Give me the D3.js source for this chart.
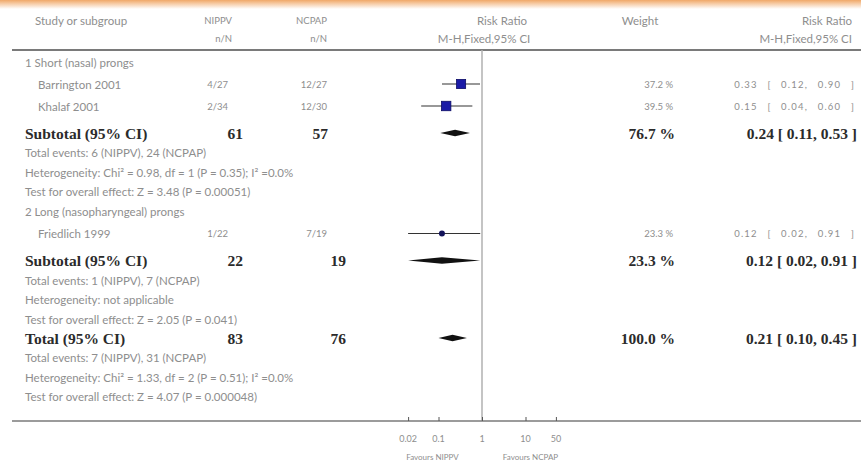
<!DOCTYPE html>
<html>
<head>
<meta charset="utf-8">
<title>Forest plot: NIPPV vs NCPAP</title>
<script src="https://cdn.jsdelivr.net/npm/d3@7"></script>
<style>
  body { margin: 0; background: #fff; }
  svg { display: block; }
  .lite { font-family: Lato, "Open Sans", sans-serif; font-size: 11.5px; fill: #8e8e8e; }
  .num { font-family: Lato, "Open Sans", sans-serif; font-size: 9.5px; fill: #8e8e8e; }
  .bold { font-family: "Liberation Serif", "DejaVu Serif", serif; font-weight: bold; font-size: 15.5px; fill: #2b2b2b; }
</style>
</head>
<body>
<svg id="chart" width="861" height="461"></svg>
<script>
// ---- data ----
var groupNames = ["1 Short (nasal) prongs", "2 Long (nasopharyngeal) prongs"];
var studyNames = ["Barrington 2001", "Khalaf 2001", "Friedlich 1999"];
var studyGroup = [0, 0, 1];
var nippvEvents = ["4/27", "2/34", "1/22"];
var ncpapEvents = ["12/27", "12/30", "7/19"];
var studyRR = [0.33, 0.15, 0.12];
var studyLo = [0.12, 0.04, 0.02];
var studyHi = [0.90, 0.60, 0.91];
var studyWeight = [37.2, 39.5, 23.3];

var poolLabels = ["Subtotal (95% CI)", "Subtotal (95% CI)", "Total (95% CI)"];
var poolNippv = [61, 22, 83];
var poolNcpap = [57, 19, 76];
var poolRR = [0.24, 0.12, 0.21];
var poolLo = [0.11, 0.02, 0.10];
var poolHi = [0.53, 0.91, 0.45];
var poolWeight = [76.7, 23.3, 100.0];
var poolInfo = [
  ["Total events: 6 (NIPPV), 24 (NCPAP)",
   "Heterogeneity: Chi\u00b2 = 0.98, df = 1 (P = 0.35); I\u00b2 =0.0%",
   "Test for overall effect: Z = 3.48 (P = 0.00051)"],
  ["Total events: 1 (NIPPV), 7 (NCPAP)",
   "Heterogeneity: not applicable",
   "Test for overall effect: Z = 2.05 (P = 0.041)"],
  ["Total events: 7 (NIPPV), 31 (NCPAP)",
   "Heterogeneity: Chi\u00b2 = 1.33, df = 2 (P = 0.51); I\u00b2 =0.0%",
   "Test for overall effect: Z = 4.07 (P = 0.000048)"]
];

var axisTicks = [0.02, 0.1, 1, 10, 50];
var axisTickLabels = ["0.02", "0.1", "1", "10", "50"];
var favourLabels = ["Favours NIPPV", "Favours NCPAP"];

// ---- build the row list ----
var rows = [];
[0, 1].forEach(function (g) {
  rows.push({ kind: "group", text: groupNames[g] });
  studyNames.forEach(function (s, i) {
    if (studyGroup[i] === g) rows.push({ kind: "study", i: i });
  });
  rows.push({ kind: "pool", i: g });
  poolInfo[g].forEach(function (t) { rows.push({ kind: "info", text: t }); });
});
rows.push({ kind: "total", i: 2 });
poolInfo[2].forEach(function (t) { rows.push({ kind: "info", text: t }); });

var gapBefore = { group: 20, study: 22, pool: 27, total: 19, info: 19.5 };
var y = 62 - gapBefore.group;
rows.forEach(function (r) { y += gapBefore[r.kind]; r.y = y; });

// ---- layout ----
var svg = d3.select("#chart");
var W = 861, H = 461;
var colNippv = 232, colNippvBold = 243, colNcpap = 327, colNcpapBold = 346;
var colWeight = 673, colCI = 855;
var axisY = 421, headRuleY = 50;

var x = d3.scaleLog().domain([0.01, 100]).range([395, 569]);
var size = d3.scaleSqrt().domain([0, 40]).range([0, 9.5]);

// orange band on top
var grad = svg.append("defs").append("linearGradient")
  .attr("id", "band").attr("x1", 0).attr("y1", 0).attr("x2", 0).attr("y2", 1);
grad.append("stop").attr("offset", "0%").attr("stop-color", "#f0a868");
grad.append("stop").attr("offset", "100%").attr("stop-color", "#fff");
svg.append("rect").attr("x", 0).attr("y", 0).attr("width", W).attr("height", 9)
  .attr("fill", "url(#band)");

// header
var head = svg.append("g").attr("dominant-baseline", "central");
function headText(cls, xx, yy, anchor, t) {
  head.append("text").attr("class", cls).attr("x", xx).attr("y", yy)
    .attr("text-anchor", anchor).text(t);
}
headText("lite", 35, 20, "start", "Study or subgroup");
headText("num", colNippv, 20, "end", "NIPPV");
headText("num", colNippv, 38, "end", "n/N");
headText("num", colNcpap, 20, "end", "NCPAP");
headText("num", colNcpap, 38, "end", "n/N");
headText("lite", 502, 20, "middle", "Risk Ratio");
headText("lite", 484, 38, "middle", "M-H,Fixed,95% CI");
headText("lite", 640, 20, "middle", "Weight");
headText("lite", 852, 20, "end", "Risk Ratio");
headText("lite", 852, 38, "end", "M-H,Fixed,95% CI");

svg.append("line").attr("x1", 12).attr("x2", W).attr("y1", headRuleY).attr("y2", headRuleY)
  .attr("stroke", "#7a7a7a").attr("stroke-width", 2);

// line of no effect
svg.append("line").attr("x1", x(1)).attr("x2", x(1)).attr("y1", headRuleY).attr("y2", axisY)
  .attr("stroke", "#b0b0b0").attr("stroke-width", 1.5);

function fmt2(v) { return d3.format(".2f")(v); }

// rows
var body = svg.append("g").attr("dominant-baseline", "central");
rows.forEach(function (r) {
  if (r.kind === "group" || r.kind === "info") {
    body.append("text").attr("class", "lite").attr("x", 25).attr("y", r.y).text(r.text);
  } else if (r.kind === "study") {
    var i = r.i;
    body.append("text").attr("class", "lite").attr("x", 38).attr("y", r.y).text(studyNames[i]);
    body.append("text").attr("class", "num").attr("x", colNippv - 4).attr("y", r.y)
      .attr("text-anchor", "end").text(nippvEvents[i]);
    body.append("text").attr("class", "num").attr("x", colNcpap).attr("y", r.y)
      .attr("text-anchor", "end").text(ncpapEvents[i]);
    body.append("text").attr("class", "num").attr("x", colWeight).attr("y", r.y)
      .attr("text-anchor", "end").text(studyWeight[i].toFixed(1) + " %");
    body.append("text").attr("class", "num").attr("x", colCI).attr("y", r.y)
      .attr("text-anchor", "end").style("letter-spacing", "1.2px").style("word-spacing", "6px")
      .text(fmt2(studyRR[i]) + " [ " + fmt2(studyLo[i]) + ", " + fmt2(studyHi[i]) + " ]");
    // CI line and box
    body.append("line").attr("x1", x(studyLo[i])).attr("x2", x(studyHi[i]))
      .attr("y1", r.y).attr("y2", r.y).attr("stroke", "#333").attr("stroke-width", 1.2);
    var s = size(studyWeight[i]);
    if (studyWeight[i] < 30) {
      body.append("circle").attr("cx", x(studyRR[i])).attr("cy", r.y).attr("r", s / 2.4)
        .attr("fill", "#14145a");
    } else {
      body.append("rect").attr("x", x(studyRR[i]) - s / 2).attr("y", r.y - s / 2)
        .attr("width", s).attr("height", s).attr("fill", "#1a1aa6")
        .attr("stroke", "#0d0d66").attr("stroke-width", 0.8);
    }
  } else {
    var k = r.i;
    body.append("text").attr("class", "bold").attr("x", 25).attr("y", r.y).text(poolLabels[k]);
    body.append("text").attr("class", "bold").attr("x", colNippvBold).attr("y", r.y)
      .attr("text-anchor", "end").text(poolNippv[k]);
    body.append("text").attr("class", "bold").attr("x", k === 0 ? colNcpap + 1 : colNcpapBold)
      .attr("y", r.y).attr("text-anchor", "end").text(poolNcpap[k]);
    body.append("text").attr("class", "bold").attr("x", colWeight + 2).attr("y", r.y)
      .attr("text-anchor", "end")
      .text(poolWeight[k].toFixed(1) + " %");
    body.append("text").attr("class", "bold").attr("x", colCI + 2).attr("y", r.y)
      .attr("text-anchor", "end")
      .text(fmt2(poolRR[k]) + " [ " + fmt2(poolLo[k]) + ", " + fmt2(poolHi[k]) + " ]");
    var hh = 3.2;
    body.append("path")
      .attr("d", "M" + x(poolLo[k]) + "," + r.y +
        "L" + x(poolRR[k]) + "," + (r.y - hh) +
        "L" + x(poolHi[k]) + "," + r.y +
        "L" + x(poolRR[k]) + "," + (r.y + hh) + "Z")
      .attr("fill", "#111");
  }
});

// bottom axis
svg.append("line").attr("x1", 12).attr("x2", W).attr("y1", axisY).attr("y2", axisY)
  .attr("stroke", "#7a7a7a").attr("stroke-width", 1.5);

var axis = d3.axisTop(x).tickValues(axisTicks).tickSize(4).tickFormat("");
var ag = svg.append("g").attr("transform", "translate(0," + axisY + ")").call(axis);
ag.select(".domain").remove();
ag.selectAll(".tick line").attr("stroke", "#555");

svg.append("g").attr("class", "num").selectAll("text").data(axisTicks).enter()
  .append("text").attr("x", function (d) { return x(d); }).attr("y", 438)
  .attr("text-anchor", "middle").attr("dominant-baseline", "central")
  .style("font-size", "9px")
  .text(function (d, i) { return axisTickLabels[i]; });

svg.append("text").attr("class", "num").attr("x", x(0.1) - 6).attr("y", 457)
  .attr("text-anchor", "middle").attr("dominant-baseline", "central")
  .style("font-size", "8px").text(favourLabels[0]);
svg.append("text").attr("class", "num").attr("x", x(10) + 5).attr("y", 457)
  .attr("text-anchor", "middle").attr("dominant-baseline", "central")
  .style("font-size", "8px").text(favourLabels[1]);
</script>
</body>
</html>
